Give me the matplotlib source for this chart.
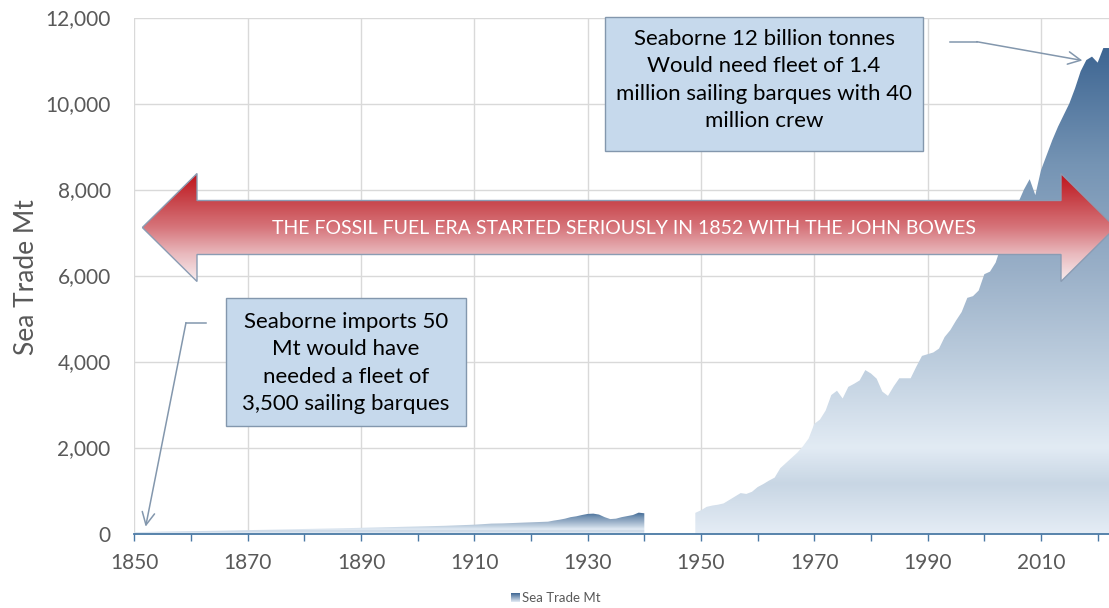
import numpy as np
import matplotlib.pyplot as plt
from matplotlib.colors import LinearSegmentedColormap
from matplotlib.patches import Polygon, Rectangle
from matplotlib.ticker import StrMethodFormatter

# Comercio marítimo (Mt)
early_years = [1850, 1855, 1860, 1865, 1870, 1875, 1880, 1885, 1890, 1895, 1900,
               1905, 1910, 1913, 1915, 1920, 1923, 1924, 1925, 1926, 1927, 1928,
               1929, 1930, 1931, 1932, 1933, 1934, 1935, 1936, 1937, 1938, 1939, 1940]
early_mt = [30, 45, 55, 65, 78, 92, 105, 118, 132, 148, 163,
            180, 205, 230, 235, 260, 275, 300, 320, 345, 380, 400,
            430, 455, 462, 440, 380, 335, 345, 380, 405, 430, 485, 470]

modern_years = list(range(1949, 2023))
modern_mt = [480, 540, 620, 650, 670, 700, 780, 860, 940, 920,           # 1949-58
             970, 1080, 1150, 1230, 1300, 1520, 1640, 1760, 1880, 2030,  # 1959-68
             2210, 2550, 2650, 2860, 3220, 3320, 3140, 3410, 3480, 3560,  # 1969-78
             3800, 3720, 3600, 3300, 3200, 3420, 3610, 3610, 3610, 3880,  # 1979-88
             4130, 4170, 4210, 4300, 4570, 4730, 4950, 5150, 5480, 5520,  # 1989-98
             5650, 6030, 6090, 6300, 6700, 7050, 7400, 7700, 8000, 8240,  # 1999-2008
             7870, 8450, 8800, 9150, 9460, 9730, 10000, 10350, 10750, 11010,  # 2009-18
             11090, 10950, 11290, 11290]                                  # 2019-22

y_ticks = [0, 2000, 4000, 6000, 8000, 10000, 12000]
x_major = list(range(1850, 2011, 20))
x_minor = list(range(1860, 2021, 20))

arrow_text = 'THE FOSSIL FUEL ERA STARTED SERIOUSLY IN 1852 WITH THE JOHN BOWES'
box_top = 'Seaborne 12 billion tonnes\nWould need fleet of 1.4\nmillion sailing barques with 40\nmillion crew'
box_left = 'Seaborne imports 50\nMt would have\nneeded a fleet of\n3,500 sailing barques'

plt.rcParams['font.family'] = ['Lato', 'DejaVu Sans']

GRIS = '#595959'
AZUL_EJE = '#4a79a5'
FLECHA = '#8397ad'

blue = LinearSegmentedColormap.from_list('sea', [
    (0.0, '#e4ecf5'), (0.10, '#c8d6e4'), (0.175, '#e2ebf4'), (0.34, '#bfcfdf'),
    (0.54, '#9ab0c8'), (0.76, '#7594b4'), (1.0, '#3d6592')])
reds = LinearSegmentedColormap.from_list('era', [
    (0.0, '#c0121a'), (0.25, '#c8444a'), (0.5, '#d6747a'), (0.75, '#e9b9bd'),
    (1.0, '#f7ecee')])

W, H = 1109, 608
fig = plt.figure(figsize=(W / 100, H / 100), dpi=100)
ax = fig.add_axes([134.3 / W, (H - 533.5) / H, (W - 134.3) / W, (533.5 - 17.5) / H])

grad = np.linspace(0, 1, 256).reshape(-1, 1)


def area_degradado(ax, xs, ys):
    verts = [(xs[0], 0)] + list(zip(xs, ys)) + [(xs[-1], 0)]
    poly = Polygon(verts, closed=True, facecolor='none', edgecolor='none')
    ax.add_patch(poly)
    im = ax.imshow(grad, cmap=blue, origin='lower', aspect='auto',
                   extent=[xs[0], xs[-1], 0, max(ys)], zorder=2,
                   interpolation='bilinear')
    im.set_clip_path(poly)


area_degradado(ax, early_years, early_mt)
area_degradado(ax, modern_years, modern_mt)

ax.set_xlim(1850, 2022)
ax.set_ylim(0, 12000)
ax.set_xticks(x_major)
ax.set_xticks(x_minor, minor=True)
ax.set_yticks(y_ticks)
ax.yaxis.set_major_formatter(StrMethodFormatter('{x:,.0f}'))
ax.set_axisbelow(True)
ax.grid(True, which='major', color='#d9d9d9', lw=1)
for s in ['top', 'right', 'left']:
    ax.spines[s].set_visible(False)
ax.spines['bottom'].set_color(AZUL_EJE)
ax.spines['bottom'].set_linewidth(1.3)
ax.tick_params(axis='y', length=0, pad=17, labelsize=15, labelcolor=GRIS)
ax.tick_params(axis='x', which='both', length=5, width=1, color=AZUL_EJE,
               pad=9, labelsize=15, labelcolor=GRIS)
ax.set_ylabel('Sea Trade Mt', fontsize=19, color=GRIS)
ax.yaxis.set_label_coords(-0.098, 0.497)

# capa superior en píxeles para flecha, cajas y leyenda
ov = fig.add_axes([0, 0, 1, 1])
ov.axis('off')

flecha = [(142.3, 227.5), (197, 173.5), (197, 200.5), (1061, 200.5), (1061, 173.5),
          (1115.5, 227.5), (1061, 281.5), (1061, 254.5), (197, 254.5), (197, 281.5)]
contorno = Polygon(flecha, closed=True, facecolor='none', edgecolor='#8a9cb3', lw=1, zorder=3)
ov.add_patch(contorno)
im = ov.imshow(grad, cmap=reds, origin='upper', aspect='auto',
               extent=(142, 1116, 281.5, 173.5), zorder=2, interpolation='bilinear')
im.set_clip_path(contorno)
ov.text(624, 228, arrow_text, color='white', fontsize=14, ha='center', va='center', zorder=4)

ov.add_patch(Rectangle((605, 17), 318, 134, facecolor='#c6d9ec', edgecolor=FLECHA, lw=1, zorder=3))
ov.text(764, 80, box_top, fontsize=16, ha='center', va='center', linespacing=1.44,
        color='black', zorder=4)
ov.add_patch(Rectangle((226, 298), 240, 128, facecolor='#c6d9ec', edgecolor=FLECHA, lw=1, zorder=3))
ov.text(346, 363, box_left, fontsize=16, ha='center', va='center', linespacing=1.44,
        color='black', zorder=4)

# flechas de anotación
ov.plot([950, 976.7], [41.7, 41.7], color=FLECHA, lw=1.1)
ax.annotate('', xy=(2017.3, 11000), xytext=(976.7, 41.7), textcoords=ov.transData,
            arrowprops=dict(arrowstyle='->,head_length=0.9,head_width=0.45',
                            color=FLECHA, lw=1.1, shrinkA=0, shrinkB=0))
ov.plot([206, 186], [322.7, 322.7], color=FLECHA, lw=1.1)
ax.annotate('', xy=(1852, 160), xytext=(186, 322.7), textcoords=ov.transData,
            arrowprops=dict(arrowstyle='->,head_length=0.9,head_width=0.45',
                            color=FLECHA, lw=1.1, shrinkA=0, shrinkB=0))

# leyenda
ov.imshow(grad, cmap=LinearSegmentedColormap.from_list('sw', ['#3d6592', '#e4ecf5']),
          origin='upper', aspect='auto', extent=(510.7, 519.3, 601.7, 592.7))
ov.text(522, 597.5, 'Sea Trade Mt', fontsize=9.5, color=GRIS, va='center')

ov.set_xlim(0, W)
ov.set_ylim(H, 0)

fig.savefig('out.png', dpi=100)
